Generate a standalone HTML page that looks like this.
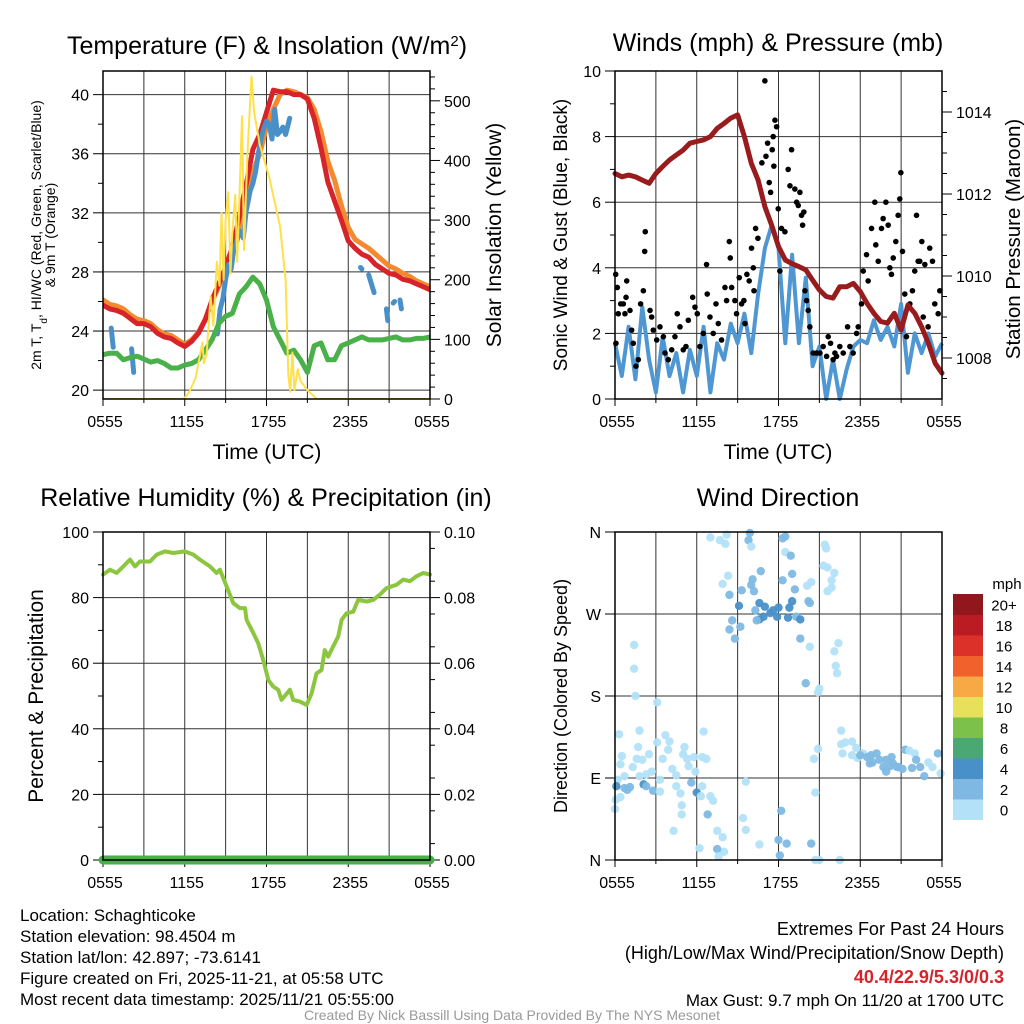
<!DOCTYPE html>
<html><head><meta charset="utf-8"><style>
html,body{margin:0;padding:0;background:#fff;}
svg{display:block;font-family:"Liberation Sans",Arial,sans-serif;}
</style></head><body>
<svg id="chart" width="1024" height="1024" viewBox="0 0 1024 1024" xmlns="http://www.w3.org/2000/svg">
<rect width="1024" height="1024" fill="#fff"/>
<g id="layer"></g>
<text x="267" y="54" font-size="25" text-anchor="middle">Temperature (F) &amp; Insolation (W/m<tspan baseline-shift="super" font-size="15">2</tspan>)</text>
<text x="778" y="51" font-size="25" text-anchor="middle">Winds (mph) &amp; Pressure (mb)</text>
<text x="266" y="506" font-size="25" text-anchor="middle">Relative Humidity (%) &amp; Precipitation (in)</text>
<text x="778" y="506" font-size="25" text-anchor="middle">Wind Direction</text>
<text x="267" y="459" font-size="21" text-anchor="middle">Time (UTC)</text>
<text x="778" y="459" font-size="21" text-anchor="middle">Time (UTC)</text>
<g font-size="14" text-anchor="middle">
<text transform="translate(41,235) rotate(-90)">2m T, T<tspan baseline-shift="sub" font-size="10">d</tspan>, HI/WC (Red, Green, Scarlet/Blue)</text>
<text transform="translate(55,235) rotate(-90)">&amp; 9m T (Orange)</text>
</g>
<text transform="translate(501,235) rotate(-90)" font-size="21" text-anchor="middle">Solar Insolation (Yellow)</text>
<text transform="translate(567,235) rotate(-90)" font-size="19" text-anchor="middle">Sonic Wind &amp; Gust (Blue, Black)</text>
<text transform="translate(1020,239) rotate(-90)" font-size="20.5" text-anchor="middle">Station Pressure (Maroon)</text>
<text transform="translate(43,696) rotate(-90)" font-size="21" text-anchor="middle">Percent &amp; Precipitation</text>
<text transform="translate(567,696) rotate(-90)" font-size="18" text-anchor="middle">Direction (Colored By Speed)</text>
<g font-size="17">
<text x="20" y="921">Location: Schaghticoke</text>
<text x="20" y="942">Station elevation: 98.4504 m</text>
<text x="20" y="963">Station lat/lon: 42.897; -73.6141</text>
<text x="20" y="984">Figure created on Fri, 2025-11-21, at 05:58 UTC</text>
<text x="20" y="1005">Most recent data timestamp: 2025/11/21 05:55:00</text>
</g>
<g font-size="18" text-anchor="end">
<text x="1004" y="935">Extremes For Past 24 Hours</text>
<text x="1004" y="959">(High/Low/Max Wind/Precipitation/Snow Depth)</text>
<text x="1004" y="983" fill="#d7232a" font-weight="bold">40.4/22.9/5.3/0/0.3</text>
<text x="1004" y="1006" font-size="17">Max Gust: 9.7 mph On 11/20 at 1700 UTC</text>
</g>
<text x="512" y="1020" font-size="14" fill="#999" text-anchor="middle">Created By Nick Bassill Using Data Provided By The NYS Mesonet</text>
</svg>
<script>
// ---------- data ----------
const xTickLabels = ["0555","1155","1755","2355","0555"];
const halfHours = [0,0.5,1,1.5,2,2.5,3,3.5,4,4.5,5,5.5,6,6.5,7,7.5,8,8.5,9,9.5,10,10.5,11,11.5,12,12.5,13,13.5,14,14.5,15,15.5,16,16.5,17,17.5,18,18.5,19,19.5,20,20.5,21,21.5,22,22.5,23,23.5,24];
const tempRed = [25.75,25.5,25.4,25.2,24.85,24.5,24.5,24.3,23.85,23.6,23.5,23.2,22.95,23.3,23.85,24.75,26.1,27.2,28.3,29.7,31.7,33.9,36.3,37.3,38.8,40.3,40.2,40.2,40,40,39.7,38.4,36.4,34.1,32.8,31.5,30.1,29.6,29.2,29.0,28.5,28.2,27.9,27.8,27.5,27.4,27.2,27.0,26.8];
const tempOrange = [26.1,25.8,25.7,25.5,25.1,24.8,24.7,24.5,24.1,23.8,23.7,23.4,23.1,23.4,23.9,24.8,26.0,27.0,28.0,29.3,31.0,33.0,34.8,36.0,37.8,39.0,40.0,40.3,40.2,40.0,39.8,39.0,37.5,35.5,34.2,32.5,31.0,30.2,29.9,29.6,29.2,28.8,28.4,28.2,27.9,27.7,27.4,27.2,27.0];
const tempDew = [22.4,22.5,22.5,22.05,22.2,22.3,22.1,21.9,22.0,21.8,21.5,21.5,21.7,21.8,22.05,22.7,23.4,24.5,25.0,25.2,26.5,27.0,27.65,27.2,26.1,24.3,23.4,22.5,22.7,22.05,21.2,23.0,23.2,22.05,22.05,23.0,23.2,23.4,23.6,23.4,23.4,23.4,23.5,23.6,23.4,23.4,23.5,23.5,23.6];
const hiwcHours = [0.6,0.75,null,2.1,2.25,null,8.4,8.6,8.8,9.0,9.2,9.4,9.6,9.8,10.0,10.3,10.5,10.8,11.0,11.2,11.4,11.6,11.8,12.0,12.2,12.4,12.6,12.8,13.0,13.2,13.4,13.7,null,18.9,19.0,null,19.5,19.7,19.9,null,20.8,20.9,null,21.3,21.4,null,21.8,21.9];
const hiwcVals = [24.2,22.9,null,22.8,21.2,null,23.8,25.5,26.2,27.5,28.5,28.2,29.5,30.0,30.8,30.3,32.1,33.5,34.0,34.8,36.0,37.0,37.7,38.2,38.0,37.0,39.0,37.3,37.5,37.8,37.3,38.4,null,28.3,28.2,null,27.8,27.2,26.6,null,25.5,24.7,null,25.9,26.0,null,26.1,25.5];
const solarHours = [0,5.9,6.3,6.8,7.3,7.4,7.6,7.9,8.1,8.35,8.55,8.7,8.85,9.0,9.2,9.35,9.5,9.7,9.85,10.0,10.2,10.35,10.6,10.9,11.1,11.5,12.2,13.0,13.4,13.6,13.75,13.9,14.05,14.3,14.5,15.0,15.7,24];
const solarVals = [0,0,10,35,95,60,75,172,123,230,190,312,200,300,347,210,280,342,230,330,474,250,410,541,480,427,372,289,200,40,12,78,15,50,30,15,0,0];
const windVals = [1.7,0.7,2.2,0.6,2.8,1.2,0.2,1.9,0.7,1.4,0.2,1.5,0.7,2.2,0.2,1.7,1.2,2.3,1.7,2.6,1.4,3.2,4.6,5.3,4.6,1.7,4.4,1.7,3.7,1.0,1.6,0,1.2,0,0.9,1.6,1.8,1.7,2.4,1.8,2.2,1.6,2.9,0.8,2.0,1.4,2.0,1.3,1.7];
const pressureVals = [1012.5,1012.42,1012.46,1012.42,1012.34,1012.26,1012.5,1012.67,1012.83,1012.95,1013.07,1013.24,1013.28,1013.32,1013.4,1013.6,1013.72,1013.85,1013.93,1013.4,1012.75,1012.34,1011.69,1011.24,1010.72,1010.39,1010.3,1010.23,1010.15,1009.9,1009.66,1009.5,1009.46,1009.74,1009.74,1009.82,1009.62,1009.33,1009.09,1008.89,1008.85,1009.09,1008.68,1009.29,1009.09,1008.76,1008.36,1007.87,1007.63];
const gustHours = [0.05,0.17,0.07,0.24,0.42,0.61,0.81,0.73,0.86,1.1,1.22,1.34,1.54,1.71,1.88,2.08,2.22,2.18,2.57,2.69,2.81,3.06,3.3,3.55,3.67,3.91,4.16,4.4,4.57,4.77,5.01,5.21,5.38,5.7,5.87,6.04,6.23,6.48,6.72,6.77,6.97,7.21,7.41,7.58,7.82,8.07,8.19,8.39,8.46,8.56,8.8,8.92,9.12,9.29,9.46,9.54,9.68,9.85,10.02,10.15,10.2,10.32,10.49,10.78,11.0,11.08,11.2,11.32,11.42,11.54,11.61,11.74,11.86,11.66,11.98,12.1,12.22,12.47,12.71,12.84,12.96,13.2,13.33,13.45,13.57,13.69,13.77,13.86,13.94,14.06,14.18,14.3,14.55,14.79,15.04,15.28,15.53,15.65,15.82,16.01,16.14,16.26,16.5,16.75,17.07,17.24,17.48,17.73,17.85,18.09,18.22,18.46,18.58,18.83,19.07,19.14,19.32,19.56,19.68,19.88,20.05,20.17,20.29,20.42,20.61,20.78,20.9,20.98,21.1,21.27,21.39,21.64,21.83,22.0,22.13,22.25,22.37,22.52,22.62,22.74,22.98,23.1,23.3,23.47,23.72,23.84];
const gustVals = [3.8,3.4,1.7,2.6,2.9,2.9,3.1,2.6,3.6,2.7,2.1,1.7,1.0,1.2,2.9,3.3,5.1,4.5,2.7,2.5,2.1,1.8,2.2,1.9,1.4,1.2,1.5,1.9,2.6,2.2,1.5,1.6,2.4,3.1,2.8,2.6,1.6,2.0,4.1,3.2,2.5,2.0,2.9,2.3,1.8,3.4,3.0,4.8,4.3,3.4,3.0,2.6,3.7,2.9,3.0,2.3,3.8,3.6,4.6,4.0,3.3,5.2,4.9,7.2,9.7,7.4,7.8,6.6,6.3,7.6,8.0,8.5,8.3,7.1,5.8,3.9,5.2,5.1,7.0,6.5,7.6,6.4,6.0,5.9,6.3,5.6,5.3,5.7,3.3,3.0,2.7,2.2,1.4,1.4,1.4,1.6,1.3,1.9,1.7,1.2,1.4,1.3,1.6,1.4,2.2,1.6,1.4,2.0,2.2,2.9,3.9,4.4,3.6,5.2,6.0,4.7,4.2,5.2,5.5,6.0,5.3,4.0,3.8,4.3,4.8,5.6,6.1,6.9,4.5,3.2,1.9,2.9,3.3,3.9,5.6,4.2,4.2,4.8,2.5,4.1,2.2,4.6,4.2,2.9,2.6,3.3];
const rhHours = [0,0.51,1,1.49,1.98,2.35,2.71,3.45,3.94,4.55,5.16,6.01,6.63,7.11,7.85,8.34,8.58,9.07,9.56,10.05,10.42,10.54,11.03,11.39,11.76,12.13,12.49,12.86,13.1,13.72,13.96,14.45,14.94,15.31,15.67,16.04,16.28,16.53,16.89,17.26,17.51,17.87,18.36,18.73,19.34,19.83,20.32,20.81,21.54,22.03,22.52,23.01,23.5,24];
const rhVals = [87,88.5,87.5,89.5,91.6,89.5,91,91,93.1,94.1,93.6,94.1,93.1,91.6,89.5,87.5,88.5,83.4,78.3,76.8,76.8,73.2,69.2,66.1,61,54.9,52.9,51.9,48.8,51.9,48.8,48.3,47.3,50.8,56.9,57.9,64,62,65.1,68.1,73.2,75.2,75.7,79.3,78.8,79.3,80.9,82.9,83.9,85.5,85,86.5,87.5,87];
const precipHours = [0,24];
const precipVals = [0,0];
const dirHours = [7.0,7.7,8.1,8.2,9.8,9.9,10.0,12.3,12.5,12.5,12.9,10.7,12.3,13.0,8.3,7.9,10.1,10.0,10.2,9.3,8.4,15.4,15.5,15.3,15.6,16.1,15.9,15.9,15.6,14.1,14.4,13.2,13.0,12.8,14.2,14.3,9.1,10.3,10.6,11.0,11.4,11.6,11.9,12.0,10.9,10.6,10.4,12.7,13.3,13.6,8.6,8.4,8.8,9.2,13.6,14.3,16.4,16.1,16.2,16.3,14.0,15.0,14.9,1.4,1.4,1.5,3.1,0.3,1.8,3.7,4.0,3.1,3.9,1.7,0.5,2.5,1.6,2.0,0.4,1.3,3.5,5.1,5.0,5.3,5.8,6.5,6.4,6.7,5.4,4.2,4.5,2.7,2.3,1.8,0.7,0.2,0.1,0.7,1.1,0.9,2.1,2.3,2.8,3.3,3.3,4.5,4.8,5.6,5.9,6.4,6.0,6.3,7.0,7.2,6.8,4.9,4.9,4.3,0.4,0.05,0,9.6,14.7,9.4,9.6,7.5,7.9,8.0,7.5,7.6,6.2,10.6,12.0,12.2,12.6,12.1,14.4,14.7,15.0,16.5,14.9,14.6,16.6,16.6,16.9,17.4,17.7,16.7,17.4,17.8,18.2,18.5,18.8,19.2,19.4,19.9,19.9,20.3,20.4,20.8,21.1,21.3,21.6,22.0,22.1,22.4,22.7,23.0,23.3,23.7,23.9,18.7,18.9,19.7,21.8,20.2,20.7,18.0];
const dirDegrees = [354,351,347,357,351,359,344,353,355,338,334,317,307,314,312,303,308,302,295,296,291,346,342,323,321,315,307,299,295,301,305,297,284,277,284,282,279,274,282,278,271,274,267,277,267,264,263,266,267,264,263,253,243,256,243,234,238,229,213,205,194,188,184,236,210,180,173,138,142,137,130,129,121,124,114,116,111,110,105,102,111,124,116,111,113,141,113,111,103,100,93,97,94,92,92,88,81,79,80,77,83,81,76,88,75,81,73,85,97,81,74,70,70,65,50,60,50,32,69,66,56,86,74,46,33,32,25,9,12,4,13,17,22,54,18,5,18,0,0,0,122,111,142,127,129,130,123,117,115,112,117,113,115,117,110,110,97,113,106,102,100,121,120,117,110,102,92,107,102,117,95,106,107,102,101,103,102,115];
const dirSpeeds = [1,1,1,1,3,3,1,3,3,1,3,3,3,3,1,1,3,3,3,3,3,1,1,1,1,1,1,1,1,1,1,3,5,5,3,3,5,3,5,5,5,5,5,5,5,5,3,5,3,5,3,3,3,3,3,1,1,1,1,1,3,1,1,1,1,1,1,1,1,1,1,1,1,1,1,1,1,1,1,1,1,1,1,1,1,1,1,1,1,1,1,1,1,1,1,1,5,3,3,3,5,3,3,1,1,1,1,3,1,1,5,1,1,1,3,1,1,1,1,1,1,1,1,1,1,1,1,1,3,1,1,1,3,3,3,3,3,1,1,1,1,1,1,1,1,1,1,1,1,1,1,3,3,3,3,3,3,3,3,3,3,3,1,1,3,3,3,1,1,3,1,3,3,3,3,3,3,3,3];
const speedBinLabels = ["0","2","4","6","8","10","12","14","16","18","20+"];
const speedBinColors = ["#b3e2f8","#7fb9e3","#4a90c8","#4aa874","#7cc24a","#e6e05a","#f7a945","#f0612b","#dc3129","#bb1c24","#91171c"];

// ---------- helpers ----------
const NS="http://www.w3.org/2000/svg";
const layer=document.getElementById('layer');
function mk(tag,attrs,parent){const e=document.createElementNS(NS,tag);for(const k in attrs)e.setAttribute(k,attrs[k]);(parent||layer).appendChild(e);return e;}
function lin(d0,d1,r0,r1){return v=>r0+(v-d0)*(r1-r0)/(d1-d0);}
function pathFrom(xs,ys,fx,fy){let d="",pen=false;for(let i=0;i<xs.length;i++){if(xs[i]===null||ys[i]===null){pen=false;continue;}d+=(pen?"L":"M")+fx(xs[i]).toFixed(1)+" "+fy(ys[i]).toFixed(1);pen=true;}return d;}

function frame(p,name){
  const g=mk('g',{});
  
  
  for(let h=3;h<24;h+=3){const x=p.fx(h);
    const l=mk('line',{x1:x,x2:x,y1:p.y0,y2:p.y1,stroke:"#333","stroke-width":1},g);
    
    }
  for(let i=0;i<=8;i++){const x=p.fx(i*3);mk('line',{x1:x,x2:x,y1:p.y1,y2:p.y1+(i%2?4:7),stroke:"#000","stroke-width":1},g);}
  xTickLabels.forEach((t,i)=>{const tx=mk('text',{x:p.fx(i*6)+2,y:p.y1+28,"font-size":16,"text-anchor":"middle"},g);tx.textContent=t;
    
    });
  return g;
}
function yAxisLeft(g,p,fy,majors,labels,minors,grid){
  majors.forEach((v,i)=>{const y=fy(v);
    if(grid&&v>p.lo&&v<p.hi)mk('line',{x1:p.x0,x2:p.x1,y1:y,y2:y,stroke:"#333","stroke-width":1},g);
    mk('line',{x1:p.x0-10,x2:p.x0,y1:y,y2:y,stroke:"#000","stroke-width":1},g);
    const t=mk('text',{x:p.x0-14,y:y+6,"font-size":16,"text-anchor":"end"},g);t.textContent=labels[i];
    
    });
  minors.forEach(v=>{const y=fy(v);mk('line',{x1:p.x0-5,x2:p.x0,y1:y,y2:y,stroke:"#000","stroke-width":1},g);});
}
function yAxisRight(g,p,fy,majors,labels,minors){
  majors.forEach((v,i)=>{const y=fy(v);
    mk('line',{x1:p.x1,x2:p.x1+10,y1:y,y2:y,stroke:"#000","stroke-width":1},g);
    const t=mk('text',{x:p.x1+14,y:y+6,"font-size":16,"text-anchor":"start"},g);t.textContent=labels[i];
    
    });
  minors.forEach(v=>{const y=fy(v);mk('line',{x1:p.x1,x2:p.x1+5,y1:y,y2:y,stroke:"#000","stroke-width":1},g);});
}
function border(g,p){mk('rect',{x:p.x0,y:p.y0,width:p.x1-p.x0,height:p.y1-p.y0,fill:"none",stroke:"#000","stroke-width":1.5},g);}
function range(a,b,s){const r=[];for(let v=a;v<=b+1e-9;v+=s)r.push(+v.toFixed(4));return r;}

// ---------- panel 1: temperature ----------
{
const p={x0:103,x1:430,y0:71,y1:399};p.fx=lin(0,24,p.x0,p.x1);
const fy=lin(19.4,41.6,p.y1,p.y0), fs=lin(0,550,p.y1,p.y0);
p.lo=19.4;p.hi=41.6;
const g=frame(p,'temperature-panel');
const tMaj=[20,24,28,32,36,40];
yAxisLeft(g,p,fy,tMaj,tMaj.map(String),range(22,38,4),true);
const sMaj=[0,100,200,300,400,500];
yAxisRight(g,p,fs,sMaj,sMaj.map(String),range(20,540,20).filter(v=>v%100));
const cl=mk('clipPath',{id:'c1'});mk('rect',{x:p.x0,y:p.y0,width:p.x1-p.x0,height:p.y1-p.y0},cl);
const d=mk('g',{'clip-path':'url(#c1)'},g);
let e;
e=mk('path',{d:pathFrom(halfHours,tempOrange,p.fx,fy),fill:"none",stroke:"#f48a2f","stroke-width":5,"stroke-linejoin":"round","stroke-linecap":"round"},d);

e=mk('path',{d:pathFrom(halfHours,tempRed,p.fx,fy),fill:"none",stroke:"#d7232a","stroke-width":5,"stroke-linejoin":"round","stroke-linecap":"round"},d);

e=mk('path',{d:pathFrom(hiwcHours,hiwcVals,p.fx,fy),fill:"none",stroke:"#4a90c8","stroke-width":5,"stroke-linejoin":"round","stroke-linecap":"round"},d);

e=mk('path',{d:pathFrom(halfHours,tempDew,p.fx,fy),fill:"none",stroke:"#4ab04a","stroke-width":5,"stroke-linejoin":"round","stroke-linecap":"round"},d);

e=mk('path',{d:pathFrom(solarHours,solarVals,p.fx,fs),fill:"none",stroke:"#ffe04a","stroke-width":2,"stroke-linejoin":"round"},d);

border(g,p);
}
// ---------- panel 2: winds ----------
{
const p={x0:615,x1:942,y0:71,y1:399};p.fx=lin(0,24,p.x0,p.x1);
const fy=lin(0,10,p.y1,p.y0), fp=lin(1007,1015,p.y1,p.y0);
p.lo=0;p.hi=10;
const g=frame(p,'wind-panel');
const wMaj=[0,2,4,6,8,10];
yAxisLeft(g,p,fy,wMaj,wMaj.map(String),[1,3,5,7,9],true);
const pMaj=[1008,1010,1012,1014];
yAxisRight(g,p,fp,pMaj,pMaj.map(String),range(1007.5,1014.5,0.5).filter(v=>v%2));
const cl=mk('clipPath',{id:'c2'});mk('rect',{x:p.x0-4,y:p.y0-4,width:p.x1-p.x0+8,height:p.y1-p.y0+8},cl);
const d=mk('g',{'clip-path':'url(#c2)'},g);
let e=mk('path',{d:pathFrom(halfHours,windVals,p.fx,fy),fill:"none",stroke:"#4f97d3","stroke-width":4,"stroke-linejoin":"round"},d);

gustHours.forEach((h,i)=>{const c=mk('circle',{cx:p.fx(h),cy:fy(gustVals[i]),r:2.8,fill:"#000"},d);
  
  });
e=mk('path',{d:pathFrom(halfHours,pressureVals,p.fx,fp),fill:"none",stroke:"#981b1e","stroke-width":5,"stroke-linejoin":"round","stroke-linecap":"round"},d);

border(g,p);
}
// ---------- panel 3: RH ----------
{
const p={x0:103,x1:430,y0:532,y1:860};p.fx=lin(0,24,p.x0,p.x1);
const fy=lin(0,100,p.y1,p.y0), fr=lin(0,0.1,p.y1,p.y0);
p.lo=0;p.hi=100;
const g=frame(p,'humidity-panel');
const rMaj=[0,20,40,60,80,100];
yAxisLeft(g,p,fy,rMaj,rMaj.map(String),range(10,90,20),true);
const prMaj=[0,0.02,0.04,0.06,0.08,0.1];
yAxisRight(g,p,fr,prMaj,prMaj.map(v=>v.toFixed(2)),range(0.005,0.095,0.01));
let e=mk('path',{d:pathFrom(rhHours,rhVals,p.fx,fy),fill:"none",stroke:"#8cc63f","stroke-width":4,"stroke-linejoin":"round","stroke-linecap":"round"},g);

e=mk('path',{d:pathFrom(precipHours,precipVals,p.fx,fr),fill:"none",stroke:"#4aae4a","stroke-width":9,"stroke-linecap":"round"},g);

border(g,p);
}
// ---------- panel 4: direction ----------
{
const p={x0:615,x1:942,y0:532,y1:860};p.fx=lin(0,24,p.x0,p.x1);
const fy=lin(0,360,p.y1,p.y0);
p.lo=0;p.hi=360;
const g=frame(p,'direction-panel');
yAxisLeft(g,p,fy,[0,90,180,270,360],["N","E","S","W","N"],[],true);
dirHours.forEach((h,i)=>{const bin=Math.min(10,Math.floor(dirSpeeds[i]/2));
  const c=mk('circle',{cx:p.fx(h),cy:fy(dirDegrees[i]),r:4.2,fill:speedBinColors[bin],opacity:0.95},g);
  
  });
border(g,p);
const cb=mk('g',{});


const cbTop=594,cbH=20.5;
speedBinColors.forEach((c,i)=>{const y=cbTop+(10-i)*cbH;
  mk('rect',{x:953,y:y,width:30,height:cbH+0.5,fill:c},cb);
  const t=mk('text',{x:1004,y:y+cbH/2+6,"font-size":15,"text-anchor":"middle"},cb);t.textContent=speedBinLabels[i];
  
  });
const u=mk('text',{x:1007,y:589,"font-size":15,"text-anchor":"middle"},cb);u.textContent="mph";


}
</script>
</body></html>
